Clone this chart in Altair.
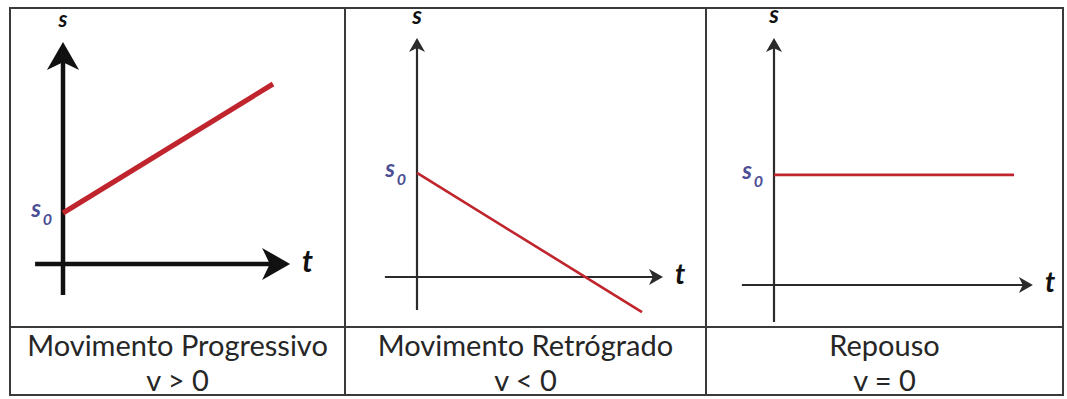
import altair as alt
import pandas as pd

# Captions under each graph
motion_names = ["Movimento Progressivo", "Movimento Retrógrado", "Repouso"]
velocity_signs = ["v > 0", "v < 0", "v = 0"]

# s(t) segment drawn in each panel (start / end time, start / end position)
t_start = [0.0, 0.0, 0.0]
t_end = [7.0, 7.5, 8.0]
s_start = [1.7, 3.47, 3.67]
s_end = [6.0, -1.17, 3.67]

# extent of the drawn t and s axes (tail, arrow tip)
t_axis_tail = [-0.93, -1.07, -1.07]
t_axis_tip = [7.57, 8.2, 8.63]
s_axis_tail = [-1.03, -1.1, -1.23]
s_axis_tip = [7.4, 7.97, 8.23]

# ---- layout and styling ----
UNIT = 30  # pixels per unit of t and s
PANEL_W = [335, 361, 357]
GRAPH_H = 319
CAPTION_H = 68
ORIGIN = [(53, 256), (72, 269), (68, 277)]  # axes origin inside each panel (px)
AXIS_W = [4.5, 2.2, 2.2]
AXIS_COLOR = ["#111111", "#2b2b2b", "#2b2b2b"]
LINE_W = [5.0, 2.6, 2.6]
RED = "#c0242c"
S0_COLOR = "#4b4e95"
ARROW_LEN = [28, 14, 14]
T_FONT = [30, 28, 28]
S_FONT = [22, 24, 24]
S_DY = [-22, -21, -22]
FONT = "Lato"
# arrow head with its tip at the symbol origin, pointing right
ARROW = "M0,0L-2,-1.15L-1.45,0L-2,1.15Z"


def graph(i):
    w = PANEL_W[i]
    ox, oy = ORIGIN[i]
    xs = alt.Scale(domain=[-ox / UNIT, (w - ox) / UNIT], nice=False, zero=False)
    ys = alt.Scale(domain=[-(GRAPH_H - oy) / UNIT, oy / UNIT], nice=False, zero=False)
    k = ARROW_LEN[i] / 2

    axes_df = pd.DataFrame({
        "t0": [t_axis_tail[i]], "t1": [t_axis_tip[i]],
        "s0": [s_axis_tail[i]], "s1": [s_axis_tip[i]], "zero": [0.0],
    })
    base = alt.Chart(axes_df)
    t_rule = base.mark_rule(color=AXIS_COLOR[i], strokeWidth=AXIS_W[i], x2Offset=-k).encode(
        x=alt.X("t0:Q", scale=xs, axis=None), x2="t1:Q",
        y=alt.Y("zero:Q", scale=ys, axis=None),
    )
    s_rule = base.mark_rule(color=AXIS_COLOR[i], strokeWidth=AXIS_W[i], y2Offset=k).encode(
        x=alt.X("zero:Q", scale=xs, axis=None),
        y=alt.Y("s0:Q", scale=ys, axis=None), y2="s1:Q",
    )

    tips_df = pd.DataFrame({
        "t": [t_axis_tip[i], 0.0], "s": [0.0, s_axis_tip[i]], "dir": [0, 270],
    })
    arrows = alt.Chart(tips_df).mark_point(
        shape=ARROW, filled=True, opacity=1, size=ARROW_LEN[i] ** 2,
        color=AXIS_COLOR[i], strokeWidth=0,
    ).encode(
        x=alt.X("t:Q", scale=xs, axis=None),
        y=alt.Y("s:Q", scale=ys, axis=None),
        angle=alt.Angle("dir:Q", scale=None),
    )

    line_df = pd.DataFrame({"t": [t_start[i], t_end[i]], "s": [s_start[i], s_end[i]]})
    motion = alt.Chart(line_df).mark_line(color=RED, strokeWidth=LINE_W[i]).encode(
        x=alt.X("t:Q", scale=xs, axis=None),
        y=alt.Y("s:Q", scale=ys, axis=None),
    )

    t_label = alt.Chart(tips_df.iloc[[0]]).mark_text(
        font=FONT, fontStyle="italic", fontWeight="bold", fontSize=T_FONT[i],
        align="left", baseline="middle", dx=12, dy=-1, color="#111111",
    ).encode(
        x=alt.X("t:Q", scale=xs, axis=None),
        y=alt.Y("s:Q", scale=ys, axis=None),
        text=alt.value("t"),
    )
    s_label = alt.Chart(tips_df.iloc[[1]]).mark_text(
        font=FONT, fontStyle="italic", fontWeight="bold", fontSize=S_FONT[i],
        align="center", baseline="middle", dy=S_DY[i], color="#111111",
    ).encode(
        x=alt.X("t:Q", scale=xs, axis=None),
        y=alt.Y("s:Q", scale=ys, axis=None),
        text=alt.value("s"),
    )

    s0_df = pd.DataFrame({"t": [0.0], "s": [s_start[i]]})
    s0_main = alt.Chart(s0_df).mark_text(
        font=FONT, fontStyle="italic", fontWeight="bold", fontSize=24,
        align="right", baseline="middle", dx=-22, dy=-3, color=S0_COLOR,
    ).encode(
        x=alt.X("t:Q", scale=xs, axis=None),
        y=alt.Y("s:Q", scale=ys, axis=None),
        text=alt.value("s"),
    )
    s0_sub = alt.Chart(s0_df).mark_text(
        font=FONT, fontStyle="italic", fontWeight="bold", fontSize=16,
        align="right", baseline="middle", dx=-11, dy=7, color=S0_COLOR,
    ).encode(
        x=alt.X("t:Q", scale=xs, axis=None),
        y=alt.Y("s:Q", scale=ys, axis=None),
        text=alt.value("0"),
    )

    return alt.layer(
        t_rule, s_rule, motion, arrows, t_label, s_label, s0_main, s0_sub
    ).properties(width=w, height=GRAPH_H)


def caption(i):
    w = PANEL_W[i]
    cap_df = pd.DataFrame({"line": [0, 1], "label": [motion_names[i], velocity_signs[i]]})
    return alt.Chart(cap_df).mark_text(
        font=FONT, fontSize=29, color="#262626", baseline="middle", align="center",
    ).encode(
        x=alt.value(w / 2),
        y=alt.Y("line:Q", axis=None,
                scale=alt.Scale(domain=[-0.571, 1.371], reverse=True, nice=False, zero=False)),
        text="label:N",
    ).properties(width=w, height=CAPTION_H)


cells = [graph(i) for i in range(3)] + [caption(i) for i in range(3)]

# the axis names above the panels reach past the frame, so the top
# padding is kept small to hold the frame at the same place
chart = alt.concat(*cells, columns=3, spacing=0, bounds="flush").properties(
    padding={"left": 9, "top": 3, "right": 2, "bottom": 2},
    background="white",
).configure_view(stroke="#3a3a3a", strokeWidth=2)

chart.save("out.html", embed_options={"renderer": "svg", "actions": False})
